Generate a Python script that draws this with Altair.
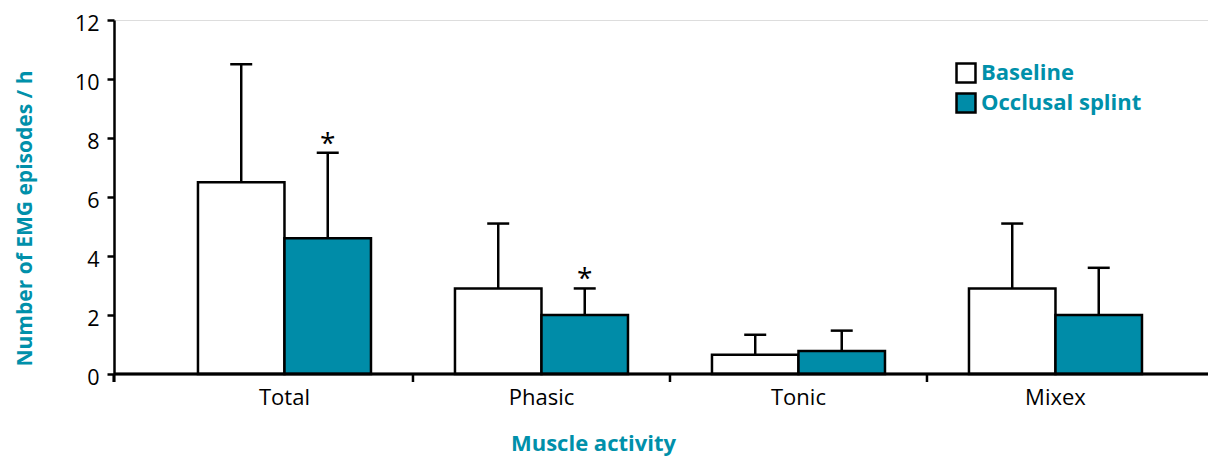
import altair as alt
import pandas as pd

categories = ["Total", "Phasic", "Tonic", "Mixex"]
groups = ["Baseline", "Occlusal splint"]
baseline_mean = [6.5, 2.9, 0.65, 2.9]
baseline_top = [10.5, 5.1, 1.33, 5.1]
splint_mean = [4.6, 2.0, 0.78, 2.0]
splint_top = [7.5, 2.9, 1.47, 3.6]
splint_sig = ["*", "*", "", ""]
y_ticks = [0, 2, 4, 6, 8, 10, 12]

TEAL = "#008CA8"
TEXT_TEAL = "#0090AA"
FONT = "Open Sans"
W, H = 1094, 354

rows = []
for i, c in enumerate(categories):
    rows.append({"cat": c, "group": groups[0], "mean": baseline_mean[i], "top": baseline_top[i], "sig": ""})
    rows.append({"cat": c, "group": groups[1], "mean": splint_mean[i], "top": splint_top[i], "sig": splint_sig[i]})
df = pd.DataFrame(rows)
df_ticks = pd.DataFrame({"cat": categories[1:]})

xscale = alt.Scale(domain=categories, paddingInner=0, paddingOuter=0.1284, align=0.636)
xoff = alt.XOffset("group:N", sort=groups, scale=alt.Scale(domain=groups, paddingInner=0, paddingOuter=0.4855))
yscale = alt.Scale(domain=[0, 12], nice=False, zero=True)

x_enc = alt.X("cat:N", sort=categories, scale=xscale,
              axis=alt.Axis(title="Muscle activity", domain=False, ticks=False, tickSize=0,
                            labelAngle=0, labelFont=FONT, labelFontSize=22, labelColor="black",
                            labelBaseline="alphabetic", labelPadding=30,
                            titleFont=FONT, titleFontSize=22, titleFontWeight="bold", titleColor=TEXT_TEAL,
                            titleX=479, titleY=76, titleAlign="center", titleBaseline="alphabetic"))
y_enc = alt.Y("mean:Q", scale=yscale,
              axis=alt.Axis(title="Number of EMG episodes / h", values=y_ticks, grid=False,
                            domainColor="black", domainWidth=2.5, tickColor="black", tickWidth=2.5, tickSize=7,
                            labelFont=FONT, labelFontSize=21.5, labelColor="black", labelPadding=8,
                            labelOffset=4,
                            titleFont=FONT, titleFontSize=21, titleFontWeight="bold", titleColor=TEXT_TEAL,
                            titleX=-89, titleY=198, titleAngle=270, titleAlign="center", titleBaseline="middle"))

bars = alt.Chart(df).mark_bar(stroke="black", strokeWidth=2.5, opacity=1).encode(
    x=x_enc,
    xOffset=xoff,
    y=y_enc,
    color=alt.Color("group:N", sort=groups,
                    scale=alt.Scale(domain=groups, range=["white", TEAL]),
                    legend=alt.Legend(title=None, orient="none", legendX=841, legendY=42,
                                      symbolType="square", symbolSize=360, symbolStrokeColor="black",
                                      symbolStrokeWidth=2.5, symbolOpacity=1,
                                      labelFont=FONT, labelFontSize=22, labelFontWeight="bold",
                                      labelColor=TEXT_TEAL, labelOffset=4, rowPadding=0,
                                      labelLimit=400)),
)

err = alt.Chart(df).mark_rule(color="black", strokeWidth=2.5).encode(
    x=alt.X("cat:N", sort=categories, scale=xscale),
    xOffset=xoff,
    y=alt.Y("mean:Q", scale=yscale),
    y2="top:Q",
)

caps = alt.Chart(df).mark_tick(color="black", size=22, thickness=2.5, opacity=1).encode(
    x=alt.X("cat:N", sort=categories, scale=xscale),
    xOffset=xoff,
    y=alt.Y("top:Q", scale=yscale),
)

stars = alt.Chart(df).mark_text(font=FONT, fontSize=28, color="black", baseline="alphabetic", dy=0).encode(
    x=alt.X("cat:N", sort=categories, scale=xscale),
    xOffset=xoff,
    y=alt.Y("top:Q", scale=yscale),
    text="sig:N",
)

xline = alt.Chart(df_ticks).mark_rule(color="black", strokeWidth=2.5).encode(
    x=alt.value(0), x2=alt.value(W), y=alt.value(H)
)
xticks = alt.Chart(df_ticks).mark_rule(color="black", strokeWidth=2.5).encode(
    x=alt.X("cat:N", sort=categories, scale=xscale, bandPosition=0),
    y=alt.value(H), y2=alt.value(H + 8),
)
ytick0 = alt.Chart(df_ticks).mark_rule(color="black", strokeWidth=2.5).encode(
    x=alt.value(0), y=alt.value(H), y2=alt.value(H + 8)
)

chart = alt.layer(bars, err, caps, stars, xline, xticks, ytick0).properties(
    width=W, height=H,
    autosize=alt.AutoSizeParams(type="none"),
    padding={"left": 106, "top": 12, "right": 0, "bottom": 82},
).configure_view(stroke=None).configure(background="white")

chart.save("out.html", embed_options={"renderer": "svg", "actions": False})
